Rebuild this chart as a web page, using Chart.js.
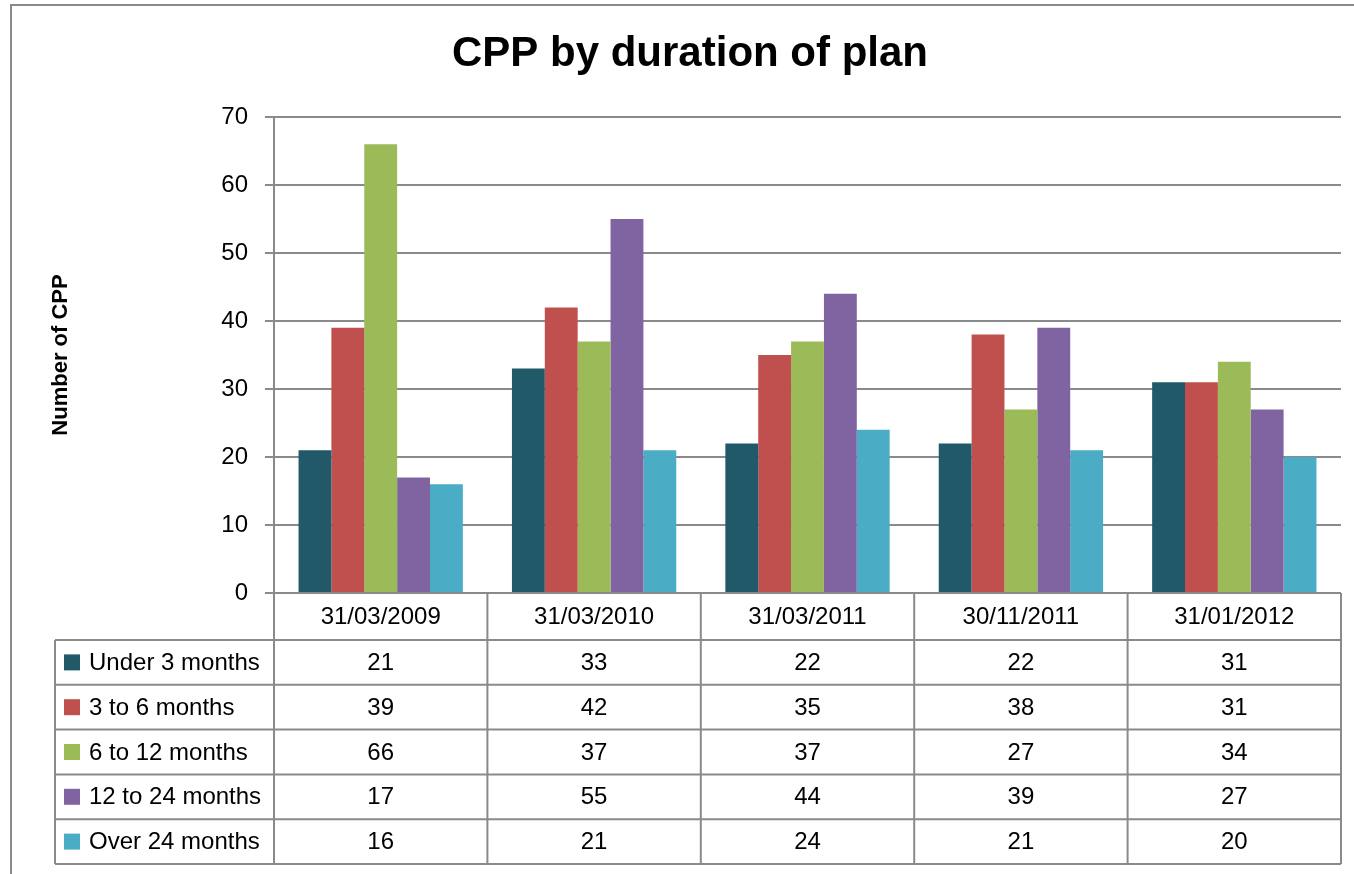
<!DOCTYPE html>
<html>
<head>
<meta charset="utf-8">
<script src="https://cdn.jsdelivr.net/npm/chart.js@4"></script>
<style>
  html, body { margin: 0; padding: 0; background: #fff; }
  #chart { display: block; }
</style>
</head>
<body>
<canvas id="chart" width="1354" height="874"></canvas>
<script>
// Chart data
const categories = ['31/03/2009', '31/03/2010', '31/03/2011', '30/11/2011', '31/01/2012'];
const seriesNames = ['Under 3 months', '3 to 6 months', '6 to 12 months', '12 to 24 months', 'Over 24 months'];
const under3Months = [21, 33, 22, 22, 31];
const from3To6Months = [39, 42, 35, 38, 31];
const from6To12Months = [66, 37, 37, 27, 34];
const from12To24Months = [17, 55, 44, 39, 27];
const over24Months = [16, 21, 24, 21, 20];
const seriesColors = ['#215968', '#c0504d', '#9bbb59', '#8064a2', '#4bacc6'];

const FONT = "'Liberation Sans', Arial, sans-serif";
const LINE = '#8a8a8a';

// Title, outer frame and the data table under the plot
const tablePlugin = {
    id: 'dataTable',
    beforeDraw(chart) {
        const ctx = chart.ctx;
        ctx.save();
        ctx.fillStyle = '#fff';
        ctx.fillRect(0, 0, chart.width, chart.height);
        ctx.restore();
    },
    afterDraw(chart) {
        const ctx = chart.ctx;
        const x = chart.scales.x;
        const area = chart.chartArea;
        const colW = (area.right - area.left) / categories.length;
        const headTop = area.bottom;
        const headBottom = 640;
        const rowH = 44.8;
        const tableBottom = headBottom + rowH * seriesNames.length;
        const legendLeft = 55;

        ctx.save();
        // outer frame
        ctx.strokeStyle = LINE;
        ctx.lineWidth = 2;
        ctx.strokeRect(11, 5, 1370, 900);

        // title
        ctx.fillStyle = '#000';
        ctx.font = 'bold 42px ' + FONT;
        ctx.textAlign = 'center';
        ctx.textBaseline = 'alphabetic';
        ctx.fillText('CPP by duration of plan', 690, 66);

        // table grid
        ctx.beginPath();
        ctx.moveTo(legendLeft, headBottom);
        ctx.lineTo(area.right, headBottom);
        for (let r = 1; r <= seriesNames.length; r++) {
            const y = headBottom + rowH * r;
            ctx.moveTo(legendLeft, y);
            ctx.lineTo(area.right, y);
        }
        ctx.moveTo(legendLeft, headBottom);
        ctx.lineTo(legendLeft, tableBottom);
        for (let c = 0; c <= categories.length; c++) {
            const cx = area.left + colW * c;
            ctx.moveTo(cx, headTop);
            ctx.lineTo(cx, tableBottom);
        }
        ctx.stroke();

        // header labels
        ctx.font = '24px ' + FONT;
        ctx.textBaseline = 'middle';
        ctx.textAlign = 'center';
        categories.forEach((c, i) => {
            ctx.fillText(c, x.getPixelForValue(i), (headTop + headBottom) / 2 + 1);
        });

        // rows
        chart.data.datasets.forEach((ds, r) => {
            const cy = headBottom + rowH * r + rowH / 2 + 1;
            ctx.fillStyle = ds.backgroundColor;
            ctx.fillRect(64, cy - 9, 16, 16);
            ctx.fillStyle = '#000';
            ctx.textAlign = 'left';
            ctx.fillText(ds.label, 89, cy);
            ctx.textAlign = 'center';
            ds.data.forEach((v, i) => {
                ctx.fillText(String(v), x.getPixelForValue(i), cy);
            });
        });
        ctx.restore();
    }
};

const allSeries = [under3Months, from3To6Months, from6To12Months, from12To24Months, over24Months];

new Chart(document.getElementById('chart'), {
    type: 'bar',
    data: {
        labels: categories,
        datasets: allSeries.map((values, i) => ({
            label: seriesNames[i],
            data: values,
            backgroundColor: seriesColors[i],
            borderWidth: 0,
            categoryPercentage: 0.77,
            barPercentage: 1.0
        }))
    },
    options: {
        responsive: false,
        animation: false,
        layout: {
            padding: { top: 117, right: 13, bottom: 281, left: 0 }
        },
        plugins: {
            legend: { display: false },
            title: { display: false },
            tooltip: { enabled: false }
        },
        scales: {
            x: {
                display: false
            },
            y: {
                min: 0,
                max: 70,
                ticks: {
                    stepSize: 10,
                    padding: 17,
                    color: '#000',
                    font: { family: FONT, size: 24 }
                },
                grid: {
                    color: LINE,
                    lineWidth: 2,
                    drawTicks: true,
                    tickLength: 9
                },
                border: { display: true, color: LINE, width: 2 },
                title: {
                    display: true,
                    text: 'Number of CPP',
                    color: '#000',
                    font: { family: FONT, size: 22, weight: 'bold' },
                    padding: { top: 48, bottom: 0 }
                },
                afterFit(scale) {
                    scale.width = 274;
                }
            }
        }
    },
    plugins: [tablePlugin]
});
</script>
</body>
</html>
